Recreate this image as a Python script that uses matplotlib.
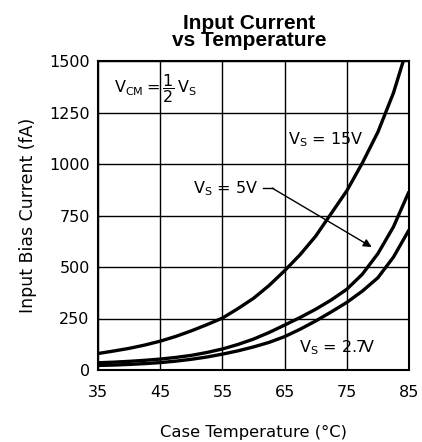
import matplotlib
matplotlib.use("Agg")
import matplotlib.pyplot as plt

# case temperature (degC)
temp = [35, 37.5, 40, 42.5, 45, 47.5, 50, 52.5, 55, 57.5, 60,
        62.5, 65, 67.5, 70, 72.5, 75, 77.5, 80, 82.5, 85]

# input bias current (fA)
ib_15v = [80, 92, 105, 121, 140, 163, 190, 220, 252, 298, 348,
          410, 482, 560, 650, 760, 870, 1005, 1155, 1345, 1590]
ib_5v = [35, 38, 42, 47, 53, 61, 71, 85, 102, 124, 150,
         182, 218, 255, 295, 340, 392, 465, 565, 695, 866]
ib_2v7 = [22, 24, 27, 31, 36, 43, 52, 63, 77, 93, 112,
          134, 162, 198, 238, 282, 328, 383, 448, 548, 680]

xticks = [35, 45, 55, 65, 75, 85]
yticks = [0, 250, 500, 750, 1000, 1250, 1500]

plt.rcParams['font.family'] = ['DejaVu Sans']

fig = plt.figure(figsize=(4.22, 4.42), dpi=100)
ax = fig.add_axes([98/422, 1-370/442, 311/422, 309/442])

lw = 2.4
for ib in (ib_15v, ib_5v, ib_2v7):
    ax.plot(temp, ib, color="black", lw=lw, solid_capstyle="butt")

ax.set_xlim(35, 85)
ax.set_ylim(0, 1500)
ax.set_xticks(xticks)
ax.set_yticks(yticks)
ax.grid(True, color="black", lw=1.0)
ax.set_axisbelow(True)
ax.tick_params(length=0, labelsize=11.5, pad=6)
ax.tick_params(axis="x", pad=11)
for s in ax.spines.values():
    s.set_linewidth(1.5)

ax.set_xlabel("Case Temperature (\u00b0C)", fontsize=11.8, labelpad=18)
ax.set_ylabel("Input Bias Current (fA)", fontsize=12.5, labelpad=9)

fig.text(0.59, 1-32/442, "Input Current\nvs Temperature", ha="center", va="center",
         fontsize=15, fontweight="bold", family="Liberation Sans", linespacing=0.9)

# annotations
ax.text(37.6, 1365, r"$\mathrm{V_{CM}=\dfrac{1}{2}\,V_S}$", fontsize=11.5, va="center")
ax.text(65.6, 1120, r"$\mathrm{V_S}$ = 15V", fontsize=11.5, va="center")
ax.text(50.3, 880, r"$\mathrm{V_S}$ = 5V", fontsize=11.5, va="center")
ax.text(67.3, 110, r"$\mathrm{V_S}$ = 2.7V", fontsize=11.5, va="center")
ax.plot([61.6, 63.2], [883, 883], color="black", lw=1.0)
ax.annotate("", xy=(79.0, 597), xytext=(63.0, 883),
            arrowprops=dict(arrowstyle="-|>", color="black", lw=1.0,
                            mutation_scale=12, shrinkA=0, shrinkB=0))

fig.savefig("out.png", dpi=100)
